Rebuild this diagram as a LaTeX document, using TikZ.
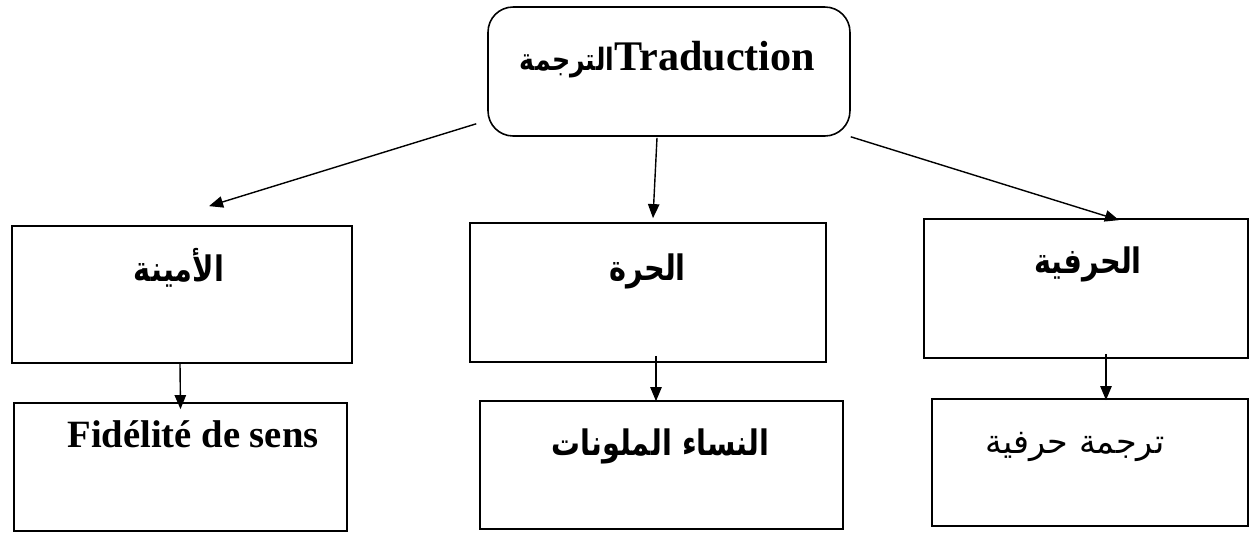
\documentclass[tikz,border=0pt]{standalone}
\usepackage{fontspec}
\setmainfont{Liberation Serif}
\newfontfamily\arabicfont[Script=Arabic, FakeStretch=0.82]{DejaVu Sans}
\newfontfamily\arabicplain[Script=Arabic]{DejaVu Sans}
\TeXXeTstate=1
\usetikzlibrary{arrows.meta}

\begin{document}
\begin{tikzpicture}[x=0.02cm, y=-0.02cm, >={Triangle[length=8pt,width=6.5pt]}]
      \tikzstyle{box} = [draw, line width=1pt, inner sep=0pt]
      \tikzstyle{word} = [inner sep=0pt, anchor=base, font=\bfseries\fontsize{22}{26}\selectfont]
      \tikzstyle{arab} = [inner sep=0pt, font=\arabicfont\bfseries\fontsize{20}{24}\selectfont]
      \tikzstyle{link} = [->, line width=0.8pt]
      \useasboundingbox (0,0) rectangle (1249,532);

      % top
      \node[box, rounded corners=0.5cm, line width=0.9pt, minimum width=7.24cm, minimum height=2.58cm] (root) at (669,71.5) {};
      \node[word, font=\bfseries\fontsize{24}{28}\selectfont] (rootlabel) at (667.5,70)
        {{\arabicfont\bfseries\fontsize{17.5}{20}\selectfont\beginR الترجمة\endR}Traduction};

      % second row
      \node[box, minimum width=6.8cm, minimum height=2.74cm] (amina) at (182,294.5) {};
      \node[box, minimum width=7.12cm, minimum height=2.78cm] (hurra) at (648,292.5) {};
      \node[box, minimum width=6.48cm, minimum height=2.78cm] (harfiya) at (1086,288.5) {};
      \node[arab] (aminalabel) at (179,268) {\beginR الأمينة\endR};
      \node[arab] (hurralabel) at (647.5,271) {\beginR الحرة\endR};
      \node[arab] (harfiyalabel) at (1088,264) {\beginR الحرفية\endR};

      % third row
      \node[box, minimum width=6.66cm, minimum height=2.56cm] (sens) at (180.5,467) {};
      \node[box, minimum width=7.26cm, minimum height=2.56cm] (nisaa) at (661.5,465) {};
      \node[box, minimum width=6.32cm, minimum height=2.54cm] (tarjama) at (1090,462.5) {};
      \node[word] (senslabel) at (193,447) {Fidélité de sens};
      \node[arab] (nisaalabel) at (660.5,446) {\beginR النساء الملونات\endR};
      \node[arab, font=\arabicplain\fontsize{19}{22}\selectfont] (tarjamalabel) at (1075,447) {\beginR ترجمة حرفية\endR};

      \path[link]
      ([shift={(-11,-13)}]root.south west) edge ([shift={(27,-19)}]amina.north)
      ([shift={(-12,1)}]root.south) edge ([shift={(5,-4)}]hurra.north)
      (root.south east) edge ([shift={(33,2)}]harfiya.north);
      \path[link]
      ([shift={(-2,0)}]amina.south) edge ([shift={(0,7)}]sens.north)
      ([shift={(8,-7)}]hurra.south) edge ([shift={(-5.5,1)}]nisaa.north)
      ([shift={(20,-5)}]harfiya.south) edge ([shift={(16,2)}]tarjama.north);
\end{tikzpicture}
\end{document}
